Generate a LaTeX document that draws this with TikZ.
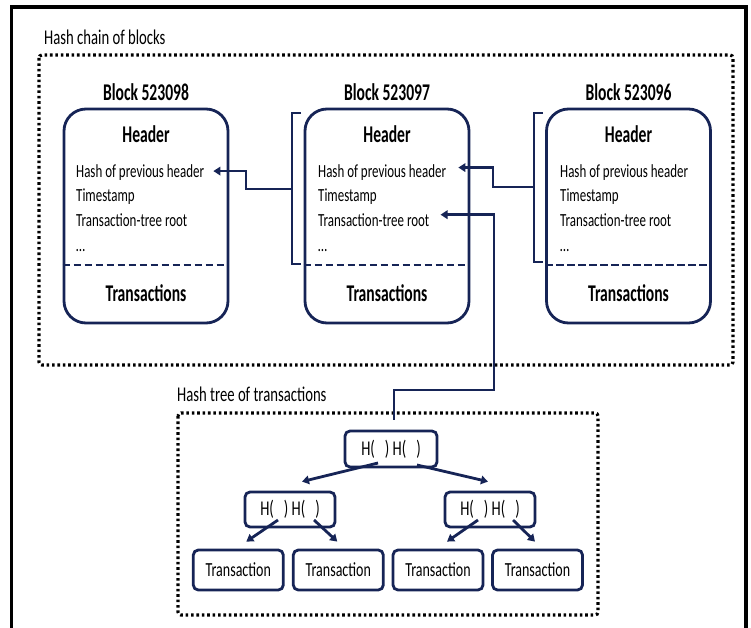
\documentclass[tikz,border=0pt]{standalone}
\usepackage{fontspec}
\setmainfont{Carlito}[FakeStretch=0.70]
\newfontfamily\bfam{Carlito}[FakeStretch=0.65]
\usetikzlibrary{arrows.meta,calc}
\definecolor{navy}{RGB}{22,36,86}
\begin{document}
\begin{tikzpicture}[x=1pt,y=-1pt,
  reg/.style={font=\fontsize{18.5}{22}\selectfont, inner sep=0pt},
  hdr/.style={font=\bfam\bfseries\fontsize{24}{28}\selectfont, inner sep=0pt},
  lbl/.style={font=\fontsize{21}{25}\selectfont, inner sep=0pt},
  blockbox/.style={draw=navy, line width=2.8pt, rounded corners=22pt, minimum width=164pt, minimum height=214pt, inner sep=0pt},
  treebox/.style={draw=navy, line width=2.8pt, rounded corners=5pt, minimum width=90pt, minimum height=35pt, inner sep=0pt, font=\fontsize{21}{25}\selectfont},
  leafbox/.style={treebox, minimum height=40pt, font=\fontsize{20}{24}\selectfont},
  link/.style={draw=navy, line width=2.8pt, -{Triangle[length=7pt,width=8.5pt]}},
  brk/.style={draw=navy, line width=2.3pt},
  dotbox/.style={draw=black, line width=3.2pt, dash pattern=on 2.6pt off 2.8pt, rounded corners=3pt},
  sepline/.style={draw=navy, line width=2.8pt, dash pattern=on 7.5pt off 3.5pt}
]
\useasboundingbox (0,0) rectangle (751,628);
% outer frame
\draw[line width=3.5pt] (11.5,632) -- (11.5,7) -- (746,7) -- (746,632);
% dotted containers
\draw[dotbox] (39,55) rectangle (733,365);
\node[lbl, anchor=base west] (chainlbl) at (44,44.5) {Hash chain of blocks};
\draw[dotbox] (178,413) rectangle (598,615);
\node[lbl, anchor=base west] (treelbl) at (177,401) {Hash tree of transactions};
% blocks
\coordinate (sepy) at (0,265);
\foreach \i/\cx/\tx/\num in {1/146/76/523098, 2/387/318/523097, 3/628.5/560/523096} {
  \node[blockbox] (b\i) at (\cx,216) {};
  \draw[sepline] (b\i.west |- sepy) -- (b\i.east |- sepy);
  \node[hdr, anchor=base] (title\i) at (\cx,100.5) {Block \num};
  \node[hdr, anchor=base] (head\i) at (\cx,143) {Header};
  \node[reg, anchor=base west] (hp\i) at (\tx,177.5) {Hash of previous header};
  \node[reg, anchor=base west] (ts\i) at (\tx,201.5) {Timestamp};
  \node[reg, anchor=base west] (tr\i) at (\tx,226.5) {Transaction-tree root};
  \node[reg, anchor=base west] (el\i) at (\tx,251) {…};
  \node[hdr, anchor=base] (tx\i) at (\cx,301) {Transactions};
}
% brackets
\draw[brk] (301,113) -- (292,113) -- (292,264) -- (301,264);
\coordinate (brm2) at (292,189);
\draw[brk] (543,113) -- (534,113) -- (534,262) -- (543,262);
\coordinate (brm3) at (534,187);
% chain arrows
\draw[link] (brm2) -- ++(-46,0) |- ($(hp1.east)+(9,-1.5)$);
\draw[link] (brm3) -- ++(-41,0) |- ($(hp2.east)+(12,-5)$);
% tree
\node[treebox, minimum width=92pt, minimum height=36pt] (root) at (391,449) {H(\hspace{10pt}) H(\hspace{10pt})};
\node[treebox] (mL) at (290,509.5) {H(\hspace{10pt}) H(\hspace{10pt})};
\node[treebox] (mR) at (490,509.5) {H(\hspace{10pt}) H(\hspace{10pt})};
\node[leafbox] (l1) at (238.3,570) {Transaction};
\node[leafbox] (l2) at (338.3,570) {Transaction};
\node[leafbox] (l3) at (438,570) {Transaction};
\node[leafbox] (l4) at (537.5,570) {Transaction};
% root to transaction-tree root
\coordinate (rtop) at ($(root.north)+(3,-10)$);
\coordinate (tjog) at (494,390);
\draw[link] (rtop) |- (tjog) |- ($(tr2.east)+(11,-5.5)$);
% tree arrows
\draw[link] ($(root.center)+(-13,14)$) -- ($(mL.north)+(12,-9)$);
\draw[link] ($(root.center)+(26,16)$) -- ($(mR.north)+(-2,-9)$);
\draw[link] ($(mL.center)+(-12,10.5)$) -- ($(l1.north)+(8,-7)$);
\draw[link] ($(mL.center)+(24,10.5)$) -- ($(l2.north)+(-1,-7)$);
\draw[link] ($(mR.center)+(-12,10.5)$) -- ($(l3.north)+(9,-7)$);
\draw[link] ($(mR.center)+(23,10.5)$) -- ($(l4.north)+(-2.5,-7)$);
\end{tikzpicture}
\end{document}
